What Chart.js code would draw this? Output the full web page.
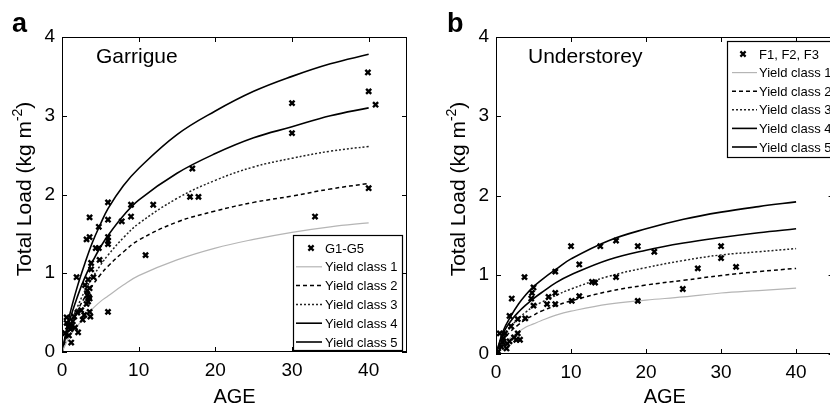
<!DOCTYPE html>
<html>
<head>
<meta charset="utf-8">
<script src="https://cdn.jsdelivr.net/npm/chart.js@4.4.1/dist/chart.umd.min.js"></script>
<style>
html, body { margin: 0; padding: 0; background: #fff; overflow: hidden; width: 830px; height: 406px; }
.panel { position: absolute; top: 0; width: 420px; height: 406px; }
</style>
</head>
<body>
<div class="panel" style="left:0"><canvas id="chartA" width="420" height="406"></canvas></div>
<div class="panel" style="left:420px"><canvas id="chartB" width="420" height="406"></canvas></div>
<script>
const curveAge = [0, 1, 2, 3, 4, 5, 6, 8, 10, 15, 20, 25, 30, 35, 40];

// panel a - Garrigue
const garYc1 = [0, 0.20, 0.33, 0.45, 0.55, 0.64, 0.71, 0.85, 0.97, 1.17, 1.32, 1.43, 1.52, 1.59, 1.64];
const garYc2 = [0, 0.30, 0.52, 0.70, 0.85, 0.98, 1.09, 1.27, 1.42, 1.65, 1.79, 1.90, 1.98, 2.07, 2.14];
const garYc3 = [0, 0.33, 0.57, 0.78, 0.95, 1.10, 1.23, 1.45, 1.63, 1.95, 2.18, 2.35, 2.46, 2.55, 2.61];
const garYc4 = [0, 0.40, 0.70, 0.95, 1.15, 1.33, 1.48, 1.73, 1.93, 2.27, 2.52, 2.72, 2.86, 3.00, 3.10];
const garYc5 = [0, 0.47, 0.83, 1.13, 1.40, 1.62, 1.82, 2.11, 2.33, 2.76, 3.06, 3.31, 3.50, 3.66, 3.78];

const garAge  = [39.9, 40, 40.9, 30, 30, 17, 16.7, 17.8, 40, 33, 11.9, 10.9, 9.0, 9.0, 7.8, 6.0, 6.0, 6.0, 6.0, 6.0, 6.0,
                 4.8, 4.8, 4.9, 4.4, 3.6, 3.6, 3.2, 3.8, 3.8, 4.1, 1.9, 3.4, 3.6, 3.3, 3.6, 3.2, 3.6, 2.9, 3.7, 2.5,
                 3.0, 3.3, 1.4, 1.2, 0.8, 2.1, 0.6, 1.1, 1.7, 0.9, 1.2, 0.6, 2.7, 0.4, 3.5, 3.4, 2.0, 1.6];
const garLoad = [3.55, 3.31, 3.14, 3.16, 2.78, 2.33, 1.97, 1.97, 2.08, 1.72, 1.87, 1.23, 1.87, 1.72, 1.66, 1.90, 1.68, 1.46, 1.41, 1.37, 0.51,
                 1.59, 1.32, 1.17, 1.32, 1.71, 1.46, 1.43, 1.13, 1.05, 0.95, 0.95, 0.92, 0.81, 0.72, 0.68, 0.61, 0.51, 0.47, 0.45, 0.53,
                 0.85, 0.78, 0.39, 0.33, 0.32, 0.25, 0.37, 0.29, 0.31, 0.21, 0.12, 0.44, 0.41, 0.24, 0.70, 0.64, 0.50, 0.45];

// panel b - Understorey
const undYc1 = [0, 0.13, 0.21, 0.28, 0.34, 0.38, 0.42, 0.49, 0.54, 0.63, 0.68, 0.72, 0.77, 0.80, 0.83];
const undYc2 = [0, 0.18, 0.29, 0.37, 0.44, 0.49, 0.54, 0.61, 0.67, 0.79, 0.87, 0.93, 0.99, 1.04, 1.08];
const undYc3 = [0, 0.22, 0.35, 0.45, 0.53, 0.60, 0.65, 0.74, 0.82, 0.98, 1.09, 1.18, 1.25, 1.29, 1.33];
const undYc4 = [0, 0.27, 0.42, 0.53, 0.62, 0.70, 0.77, 0.90, 1.00, 1.19, 1.31, 1.40, 1.47, 1.53, 1.58];
const undYc5 = [0, 0.30, 0.48, 0.63, 0.75, 0.85, 0.93, 1.07, 1.20, 1.43, 1.58, 1.70, 1.79, 1.86, 1.92];

const undAge  = [10.0, 11.1, 13.9, 16.0, 18.9, 21.1, 30, 30, 32, 26.9, 24.9, 18.9, 16, 12.8, 13.2, 11.1, 10.1, 7.9, 7.9, 7.9,
                 7.0, 6.8, 5.0, 5.0, 4.8, 4.7, 3.8, 3.9, 2.1, 1.8, 2.9, 0.5, 1.0, 1.5, 2.4, 2.9, 2.7, 0.7, 0.3, 1.4,
                 1.8, 3.2, 1.2, 2.0, 0.9];
const undLoad = [1.36, 1.13, 1.36, 1.43, 1.36, 1.29, 1.36, 1.21, 1.10, 1.08, 0.82, 0.67, 0.97, 0.91, 0.90, 0.73, 0.67, 1.04, 0.77, 0.63,
                 0.72, 0.63, 0.61, 0.84, 0.77, 0.70, 0.97, 0.45, 0.70, 0.48, 0.44, 0.26, 0.20, 0.13, 0.21, 0.26, 0.18, 0.09, 0.03, 0.07,
                 0.16, 0.18, 0.26, 0.35, 0.15];

const xTicks = [0, 10, 20, 30, 40];
const yTicks = [0, 1, 2, 3, 4];

const FONT = '"Liberation Sans", Arial, sans-serif';

const pairs = (xs, ys) => xs.map((v, i) => ({ x: v, y: ys[i] }));

// line look of the five yield classes (class 1 .. 5)
const classStyles = [
    { borderColor: '#b5b5b5', borderWidth: 1.2, borderDash: [] },
    { borderColor: '#000', borderWidth: 1.5, borderDash: [4, 3] },
    { borderColor: '#222', borderWidth: 1.5, borderDash: [2, 2] },
    { borderColor: '#000', borderWidth: 1.6, borderDash: [] },
    { borderColor: '#000', borderWidth: 1.6, borderDash: [] }
];

function buildDatasets(pointLabel, ages, loads, classes) {
    const sets = [{
        type: 'scatter',
        label: pointLabel,
        data: pairs(ages, loads),
        pointStyle: 'crossRot',
        pointRadius: 3.6,
        pointBorderWidth: 2.4,
        borderColor: '#000',
        backgroundColor: '#000'
    }];
    classes.forEach((vals, i) => {
        sets.push(Object.assign({
            type: 'line',
            label: 'Yield class ' + (i + 1),
            data: pairs(curveAge, vals),
            pointRadius: 0,
            fill: false,
            tension: 0.4
        }, classStyles[i]));
    });
    return sets;
}

// frame, inward ticks, legend box, labels
const panelDecor = {
    id: 'panelDecor',
    afterDraw(chart, args, o) {
        const { ctx, chartArea: a, scales: { x, y } } = chart;
        ctx.save();
        ctx.strokeStyle = '#000';
        ctx.lineWidth = 1;
        ctx.setLineDash([]);
        ctx.strokeRect(a.left + 0.5, a.top + 0.5, a.right - a.left - 1, a.bottom - a.top - 1);
        ctx.beginPath();
        x.ticks.forEach(t => {
            const px = Math.round(x.getPixelForValue(t.value)) + 0.5;
            ctx.moveTo(px, a.bottom); ctx.lineTo(px, a.bottom - 5);
            ctx.moveTo(px, a.top); ctx.lineTo(px, a.top + 5);
        });
        y.ticks.forEach(t => {
            const py = Math.round(y.getPixelForValue(t.value)) + 0.5;
            ctx.moveTo(a.left, py); ctx.lineTo(a.left + 5, py);
            ctx.moveTo(a.right, py); ctx.lineTo(a.right - 5, py);
        });
        ctx.stroke();

        // legend
        const L = o.legend;
        ctx.fillStyle = '#fff';
        ctx.fillRect(L.x, L.y, L.w, L.h);
        ctx.strokeStyle = '#000';
        ctx.lineWidth = 1.2;
        ctx.strokeRect(L.x + 0.5, L.y + 0.5, L.w, L.h);
        ctx.font = '13px ' + FONT;
        ctx.textBaseline = 'middle';
        ctx.textAlign = 'left';
        chart.data.datasets.forEach((ds, i) => {
            const ry = L.row0 + i * L.step;
            if (ds.type === 'scatter') {
                const mx = L.markX, r = 2.6;
                ctx.lineWidth = 2.2;
                ctx.strokeStyle = '#000';
                ctx.setLineDash([]);
                ctx.beginPath();
                ctx.moveTo(mx - r, ry - r); ctx.lineTo(mx + r, ry + r);
                ctx.moveTo(mx + r, ry - r); ctx.lineTo(mx - r, ry + r);
                ctx.stroke();
            } else {
                ctx.lineWidth = ds.borderWidth;
                ctx.strokeStyle = ds.borderColor;
                ctx.setLineDash(ds.borderDash);
                ctx.beginPath();
                ctx.moveTo(L.line0, ry); ctx.lineTo(L.line1, ry);
                ctx.stroke();
            }
            ctx.fillStyle = '#000';
            ctx.fillText(ds.label, L.textX, ry + 1);
        });
        ctx.setLineDash([]);

        // inset title and panel letter
        ctx.fillStyle = '#000';
        ctx.textBaseline = 'alphabetic';
        ctx.font = '21px ' + FONT;
        ctx.fillText(o.inset, o.insetX, 63);
        ctx.font = 'bold 27px ' + FONT;
        ctx.fillText(o.letter, o.letterX, 32);

        // y title with superscript
        const main = '21px ' + FONT, sup = '14px ' + FONT;
        const p1 = 'Total Load (kg m', p2 = '-2', p3 = ')';
        ctx.font = main; const w1 = ctx.measureText(p1).width, w3 = ctx.measureText(p3).width;
        ctx.font = sup; const w2 = ctx.measureText(p2).width;
        ctx.translate(o.yTitleX, 189);
        ctx.rotate(-Math.PI / 2);
        let s = -(w1 + w2 + w3) / 2;
        ctx.font = main; ctx.fillText(p1, s, 0); s += w1;
        ctx.font = sup; ctx.fillText(p2, s, -9); s += w2;
        ctx.font = main; ctx.fillText(p3, s, 0);
        ctx.restore();
    }
};

function makeChart(id, datasets, yWidth, xHeight, padRight, decor) {
    return new Chart(document.getElementById(id), {
        data: { datasets },
        options: {
            responsive: false,
            animation: false,
            events: [],
            layout: { padding: { left: 0, top: 37, right: padRight, bottom: 0 } },
            scales: {
                x: {
                    type: 'linear', min: 0, max: 45,
                    afterFit: s => { s.height = xHeight; },
                    afterBuildTicks: s => { s.ticks = xTicks.map(v => ({ value: v })); },
                    grid: { display: false, drawTicks: false },
                    border: { display: false },
                    ticks: { padding: 7, color: '#000', font: { family: FONT, size: 19 }, autoSkip: false, maxRotation: 0 },
                    title: { display: true, text: 'AGE', color: '#000', font: { family: FONT, size: 20, lineHeight: 1.2 }, padding: { top: 0, bottom: -3 } }
                },
                y: {
                    type: 'linear', min: 0, max: 4,
                    afterFit: s => { s.width = yWidth; },
                    afterBuildTicks: s => { s.ticks = yTicks.map(v => ({ value: v })); },
                    grid: { display: false, drawTicks: false },
                    border: { display: false },
                    ticks: { padding: 7, color: '#000', font: { family: FONT, size: 19 } }
                }
            },
            plugins: {
                legend: { display: false },
                tooltip: { enabled: false },
                panelDecor: decor
            }
        },
        plugins: [panelDecor]
    });
}

makeChart('chartA',
    buildDatasets('G1-G5', garAge, garLoad, [garYc1, garYc2, garYc3, garYc4, garYc5]),
    62, 54, 13,
    {
        letter: 'a', letterX: 12, inset: 'Garrigue', insetX: 96, yTitleX: 31,
        legend: { x: 293, y: 235, w: 109, h: 115, row0: 248, step: 18.8, markX: 311, line0: 296, line1: 322, textX: 325 }
    });

makeChart('chartB',
    buildDatasets('F1, F2, F3', undAge, undLoad, [undYc1, undYc2, undYc3, undYc4, undYc5]),
    76, 52, 2,
    {
        letter: 'b', letterX: 27, inset: 'Understorey', insetX: 108, yTitleX: 45,
        legend: { x: 307, y: 41, w: 120, h: 116, row0: 54, step: 18.6, markX: 323, line0: 312, line1: 337, textX: 339 }
    });
</script>
</body>
</html>
